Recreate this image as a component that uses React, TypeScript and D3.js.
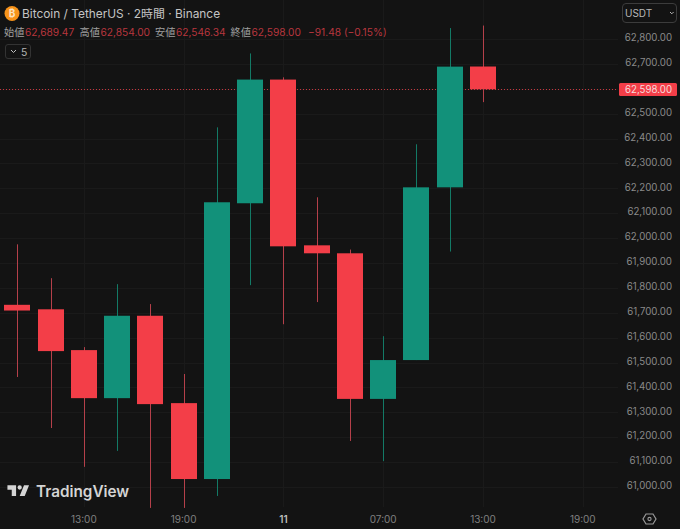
import { useMemo } from 'react';
import * as d3 from 'd3';

// 2h BTC/USDT candles
const opens = [61732, 61714, 61550, 61357, 61688, 61337, 61032, 62140, 62637, 61971, 61939, 61354, 61510, 62204, 62689.47];
const highs = [61975, 61839, 61562, 61815, 61735, 61454, 62445, 62742, 62646, 62164, 61954, 61606, 62377, 62844, 62854];
const lows = [61442, 61237, 61081, 61145, 60916, 60916, 60964, 61811, 61654, 61743, 61185, 61104, 61510, 61946, 62546.34];
const closes = [61709, 61546, 61357, 61688, 61333, 61032, 62144, 62637, 61967, 61939, 61354, 61510, 62204, 62689, 62598];

const priceTicks = d3.range(61000, 62801, 100);
const timeLabels = [
  { bar: 2, label: '13:00' },
  { bar: 5, label: '19:00' },
  { bar: 8, label: '11' },
  { bar: 11, label: '07:00' },
  { bar: 14, label: '13:00' },
  { bar: 17, label: '19:00' },
];
const ohlc = [
  { name: '始値', value: '62,689.47' },
  { name: '高値', value: '62,854.00' },
  { name: '安値', value: '62,546.34' },
  { name: '終値', value: '62,598.00' },
];

const W = 680;
const H = 529;
const PLOT_R = 618;
const BG = '#131313';
const GRID = '#1a1a1a';
const UP = '#12917a';
const DOWN = '#f33e48';
const UP_WICK = '#137a66';
const DOWN_WICK = '#b5404a';
const FONT = 'Inter, "Noto Sans CJK JP", sans-serif';
const fmt = d3.format(',.2f');

export default function App() {
  const x = useMemo(() => d3.scaleLinear().domain([0, 14]).range([17.3, 483]), []);
  const y = useMemo(() => d3.scaleLinear().domain([62800, 61000]).range([39, 487]), []);
  const last = closes[closes.length - 1];
  const lastY = Math.round(y(last)) + 0.5;

  return (
    <div style={{ position: 'absolute', left: 0, top: 0, width: W, height: H }}>
      <svg width={W} height={H} style={{ display: 'block', fontFamily: FONT }}>
        <rect width={W} height={H} fill={BG} />

        {/* grid */}
        {priceTicks.map((p) => (
          <line key={p} x1={0} x2={PLOT_R} y1={Math.round(y(p)) + 0.5} y2={Math.round(y(p)) + 0.5} stroke={GRID} />
        ))}
        {timeLabels.map((t) => (
          <line key={t.bar} x1={Math.round(x(t.bar)) + 0.5} x2={Math.round(x(t.bar)) + 0.5} y1={0} y2={507} stroke={GRID} />
        ))}

        {/* last price line */}
        <line x1={0} x2={PLOT_R} y1={lastY} y2={lastY} stroke={DOWN} strokeOpacity={0.8} strokeDasharray="1 2" />

        {/* candles */}
        {opens.map((o, i) => {
          const c = closes[i];
          const up = c >= o;
          const top = y(Math.max(o, c));
          const bottom = y(Math.min(o, c));
          const cx = Math.round(x(i));
          return (
            <g key={i}>
              <line x1={cx + 0.5} x2={cx + 0.5} y1={y(highs[i])} y2={y(lows[i])} stroke={up ? UP_WICK : DOWN_WICK} />
              <rect x={cx - 13} y={top} width={26} height={bottom - top} fill={up ? UP : DOWN} />
            </g>
          );
        })}

        {/* header */}
        <circle cx={12} cy={13.5} r={7.5} fill="#f7931a" />
        <text x={12} y={17} textAnchor="middle" fontSize={10} fontWeight={700} fill="#fbe3c2">₿</text>
        <text x={22} y={18} fontSize={11.9} fill="#c4c4c4">Bitcoin / TetherUS · 2時間 · Binance</text>
        {ohlc.map((d, i) => {
          const left = 4 + i * 75.5;
          return (
            <g key={d.name} fontSize={10.2}>
              <text x={left} y={35.5} fill="#a0a0a0">{d.name}</text>
              <text x={left + 21} y={35.5} fill="#b8363e">{d.value}</text>
            </g>
          );
        })}
        <text x={308} y={35.5} fontSize={10.2} fill="#b8363e">−91.48 (−0.15%)</text>

        {/* indicators toggle */}
        <rect x={5.5} y={44.5} width={25} height={14} rx={2.5} fill="none" stroke="#333" />
        <path d="M11 50l2.5 2.5L16 50" fill="none" stroke="#c0c0c0" strokeWidth={1} />
        <text x={21} y={55.5} fontSize={10.4} fill="#b5b5b5">5</text>

        {/* price axis */}
        <rect x={622.5} y={3.5} width={54} height={19} rx={3.5} fill={BG} stroke="#3c3c3c" />
        <text x={625} y={17} fontSize={10} fill="#b8b8b8">USDT</text>
        <path d="M670 12l1.8 1.8L673.6 12" fill="none" stroke="#b8b8b8" strokeWidth={1} />
        {priceTicks.filter((p) => Math.abs(y(p) - y(last)) > 8).map((p) => (
          <text key={p} x={672} y={y(p) + 2.2} textAnchor="end" fontSize={9.7} fill="#8a8a8a">{fmt(p)}</text>
        ))}
        <rect x={619} y={83} width={58} height={13} rx={1.5} fill={DOWN} />
        <text x={672} y={93} textAnchor="end" fontSize={9.7} fill="#f6dcdc">{fmt(last)}</text>

        {/* time axis */}
        {timeLabels.map((t) => (
          <text
            key={t.bar}
            x={x(t.bar)}
            y={523}
            textAnchor="middle"
            fontSize={10}
            fontWeight={t.label === '11' ? 600 : 400}
            fill={t.label === '11' ? '#bdbdbd' : '#808080'}
          >
            {t.label}
          </text>
        ))}

        {/* settings hexagon */}
        <path d="M646 514h7l3 5-3 5h-7l-3-5z" fill="none" stroke="#9a9a9a" strokeWidth={1.2} />
        <circle cx={649.5} cy={519} r={1.6} fill="none" stroke="#9a9a9a" strokeWidth={1.1} />

        {/* logo */}
        <g transform="translate(6,481) scale(0.72)">
          <path d="M14 6H2v6h6v9h6V6Zm12 15h-7l6-15h7l-6 15Zm-7-9a3 3 0 1 0 0-6 3 3 0 0 0 0 6Z" fill="#d4d4d4" />
        </g>
        <text x={36} y={497} fontSize={15.3} fontWeight={600} fill="#d4d4d4">TradingView</text>
      </svg>
    </div>
  );
}
